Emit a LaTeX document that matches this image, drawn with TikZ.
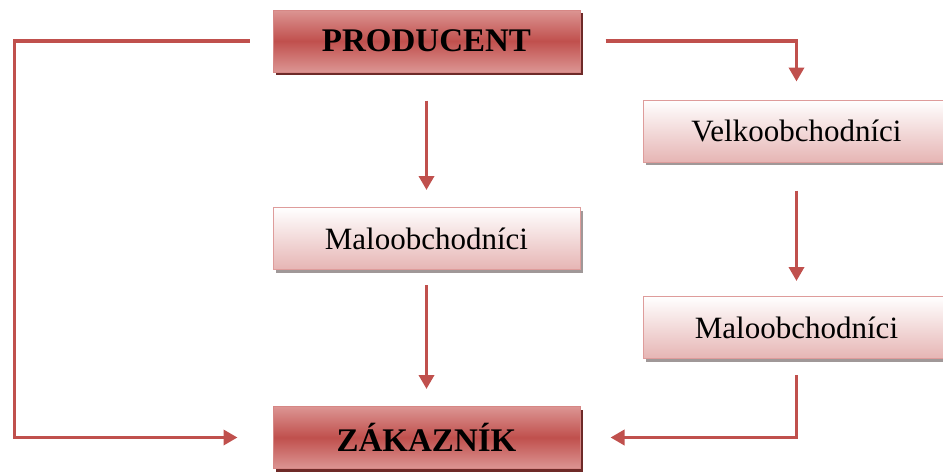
\documentclass[tikz,border=0pt]{standalone}
\usepackage{fontspec}
\setmainfont{Liberation Serif}
\usetikzlibrary{shadows,arrows.meta,calc}
\definecolor{accred}{HTML}{C0504D}
\definecolor{lightred}{HTML}{DC9593}
\definecolor{pinkbot}{HTML}{E6B5B4}
\definecolor{pinkedge}{HTML}{DE9C9B}
\definecolor{darkshadow}{HTML}{6E2A28}
\definecolor{grayshadow}{HTML}{A09898}
\tikzset{
  redbox/.style={draw=lightred!80!accred, line width=1pt, minimum width=307pt, minimum height=62pt,
    top color=lightred, bottom color=lightred, middle color=accred,
    drop shadow={shadow xshift=3pt, shadow yshift=-3pt, fill=darkshadow, opacity=1},
    font=\fontsize{33}{38}\selectfont\bfseries, inner sep=0pt},
  lightbox/.style={draw=pinkedge, line width=1pt, minimum width=307pt, minimum height=62pt,
    top color=white, bottom color=pinkbot,
    drop shadow={shadow xshift=3pt, shadow yshift=-3pt, fill=grayshadow, opacity=1},
    font=\fontsize{31}{36}\selectfont, inner sep=0pt},
  conn/.style={draw=accred, line width=3.5pt, -{Triangle[length=14pt,width=15pt]}}
}
\begin{document}
\begin{tikzpicture}[x=1pt,y=-1pt]
\useasboundingbox (0,0) rectangle (943,474);
\node[redbox] (prod) at (426.5,41) {PRODUCENT};
\node[redbox] (zak) at (426.5,437.5) {ZÁKAZNÍK};
\node[lightbox] (mmal) at (426.5,238.5) {Maloobchodníci};
\node[lightbox] (velko) at (796.5,131) {Velkoobchodníci};
\node[lightbox] (rmal) at (796.5,327.5) {Maloobchodníci};
% left route
\draw[conn, shorten <=23pt, shorten >=35pt] (prod.west) -- ++(-258,0) |- (zak.west);
% middle
\draw[conn, shorten <=28pt, shorten >=17pt] (prod.south) -- (mmal.north);
\draw[conn, shorten <=15pt, shorten >=17pt] (mmal.south) -- (zak.north);
% right route
\draw[conn, shorten <=25pt, shorten >=18pt] (prod.east) -| (velko.north);
\draw[conn, shorten <=28pt, shorten >=15pt] (velko.south) -- (rmal.north);
\draw[conn, shorten <=16pt, shorten >=30pt] (rmal.south) |- (zak.east);
\end{tikzpicture}
\end{document}
